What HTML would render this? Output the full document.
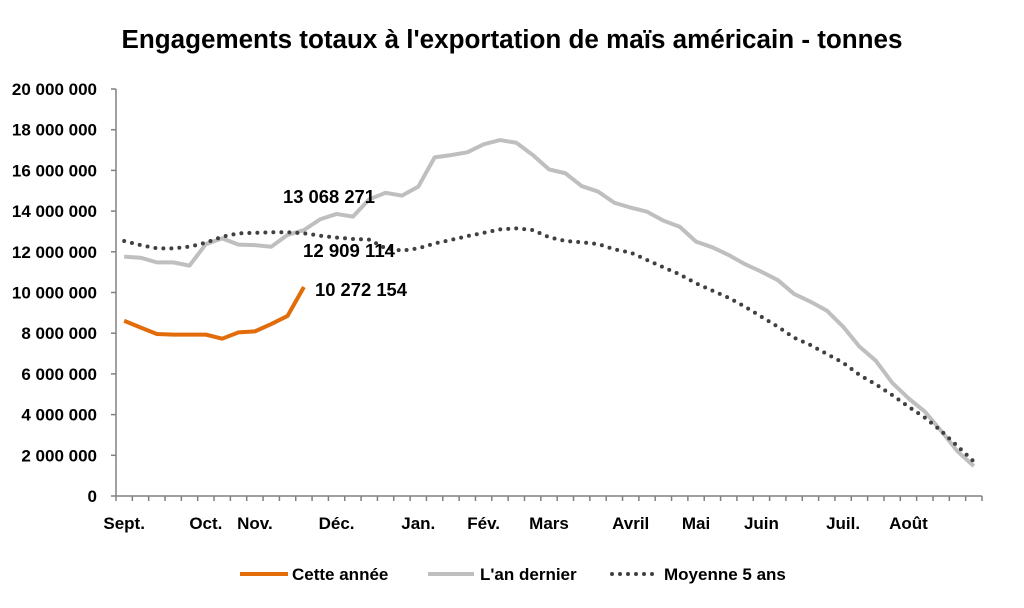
<!DOCTYPE html>
<html><head><meta charset="utf-8">
<style>
body{margin:0;background:#fff;font-family:"Liberation Sans",sans-serif}
svg{display:block}
text{font-family:"Liberation Sans",sans-serif;font-weight:bold;fill:#000}
</style></head>
<body>
<svg id="chart" width="1024" height="608">
<text x="512" y="48" text-anchor="middle" font-size="25.5" textLength="781" lengthAdjust="spacingAndGlyphs">Engagements totaux à l'exportation de maïs américain - tonnes</text>
<g id="axes"></g>
<g id="series"></g>
<g id="legend">
<line x1="240" y1="574" x2="288" y2="574" stroke="#E36C0A" stroke-width="4"/>
<text x="292" y="580" font-size="17">Cette année</text>
<line x1="428" y1="574" x2="474" y2="574" stroke="#BFBFBF" stroke-width="4"/>
<text x="480" y="580" font-size="17">L'an dernier</text>
<line x1="612" y1="574" x2="658" y2="574" stroke="#404040" stroke-width="4" stroke-dasharray="0 8" stroke-linecap="round"/>
<text x="664" y="580" font-size="17">Moyenne 5 ans</text>
</g>
</svg>
<script>
const monthLabels=["Sept.","Oct.","Nov.","Déc.","Jan.","Fév.","Mars","Avril","Mai","Juin","Juil.","Août"];
const monthIndex=[0,5,8,13,18,22,26,31,35,39,44,48];
const yTicks=[0,2,4,6,8,10,12,14,16,18,20];
const yTickLabels=["0","2 000 000","4 000 000","6 000 000","8 000 000","10 000 000","12 000 000","14 000 000","16 000 000","18 000 000","20 000 000"];
const cetteAnnee=[8.61,8.28,7.96,7.93,7.93,7.93,7.73,8.04,8.09,8.45,8.85,10.272154];
const anDernier=[11.76,11.71,11.48,11.48,11.32,12.38,12.66,12.35,12.33,12.25,12.83,13.068271,13.6,13.86,13.73,14.58,14.9,14.76,15.2,16.64,16.75,16.89,17.28,17.49,17.36,16.76,16.05,15.86,15.23,14.96,14.41,14.17,13.97,13.53,13.23,12.5,12.22,11.84,11.39,11.02,10.61,9.93,9.55,9.11,8.32,7.34,6.65,5.57,4.8,4.15,3.2,2.2,1.47];
const moyenne=[12.53,12.33,12.17,12.17,12.25,12.45,12.74,12.91,12.93,12.96,12.96,12.909114,12.79,12.7,12.63,12.6,12.17,12.06,12.17,12.41,12.58,12.77,12.93,13.1,13.15,13.07,12.72,12.53,12.47,12.38,12.12,11.96,11.6,11.24,10.89,10.45,10.09,9.74,9.3,8.81,8.32,7.78,7.42,6.98,6.55,5.95,5.49,4.96,4.39,3.85,3.2,2.45,1.69];
const valueLabels=["13 068 271","12 909 114","10 272 154"];

const NS="http://www.w3.org/2000/svg";
const X0=116,X1=982,N=53,Y0=496,Y1=89,YMAX=20;
const step=(X1-X0)/N;
const xs=i=>X0+step*(i+0.5);
const ys=v=>Y0-(v/YMAX)*(Y0-Y1);
function mk(tag,attrs,parent){const e=document.createElementNS(NS,tag);for(const k in attrs)e.setAttribute(k,attrs[k]);parent.appendChild(e);return e;}
const axes=document.getElementById('axes'),series=document.getElementById('series');

const ya=mk('line',{x1:X0,y1:Y1,x2:X0,y2:Y0,stroke:'#808080','stroke-width':1.5},axes);


const xa=mk('line',{x1:X0,y1:Y0,x2:X1,y2:Y0,stroke:'#808080','stroke-width':1.5},axes);


yTicks.forEach((v,i)=>{
  mk('line',{x1:X0-5,y1:ys(v),x2:X0,y2:ys(v),stroke:'#808080','stroke-width':1.5},axes);
  const t=mk('text',{x:97,y:ys(v)+6,'text-anchor':'end','font-size':17},axes);
  t.textContent=yTickLabels[i];
  
  
});
for(let i=0;i<=N;i++){mk('line',{x1:X0+step*i,y1:Y0,x2:X0+step*i,y2:Y0+5,stroke:'#808080','stroke-width':1.5},axes);}
monthLabels.forEach((m,k)=>{
  const t=mk('text',{x:xs(monthIndex[k]),y:529,'text-anchor':'middle','font-size':17},axes);
  t.textContent=m;
  
  
});
function line(data,attrs,name){
  const p=mk('polyline',Object.assign({points:data.map((v,i)=>xs(i)+','+ys(v)).join(' '),fill:'none'},attrs),series);
  
  
}
line(anDernier,{stroke:'#BFBFBF','stroke-width':4,'stroke-linejoin':'round'},'line-an-dernier');
line(moyenne,{stroke:'#404040','stroke-width':4,'stroke-dasharray':'0 8','stroke-linecap':'round'},'line-moyenne-5-ans');
line(cetteAnnee,{stroke:'#E36C0A','stroke-width':4,'stroke-linejoin':'round'},'line-cette-annee');
const lbl=[[283,203],[303,257],[315,296]];
valueLabels.forEach((s,k)=>{
  const t=mk('text',{x:lbl[k][0],y:lbl[k][1],'font-size':18,textLength:92,lengthAdjust:'spacingAndGlyphs'},series);
  t.textContent=s;
  
  
});
</script>
</body></html>
